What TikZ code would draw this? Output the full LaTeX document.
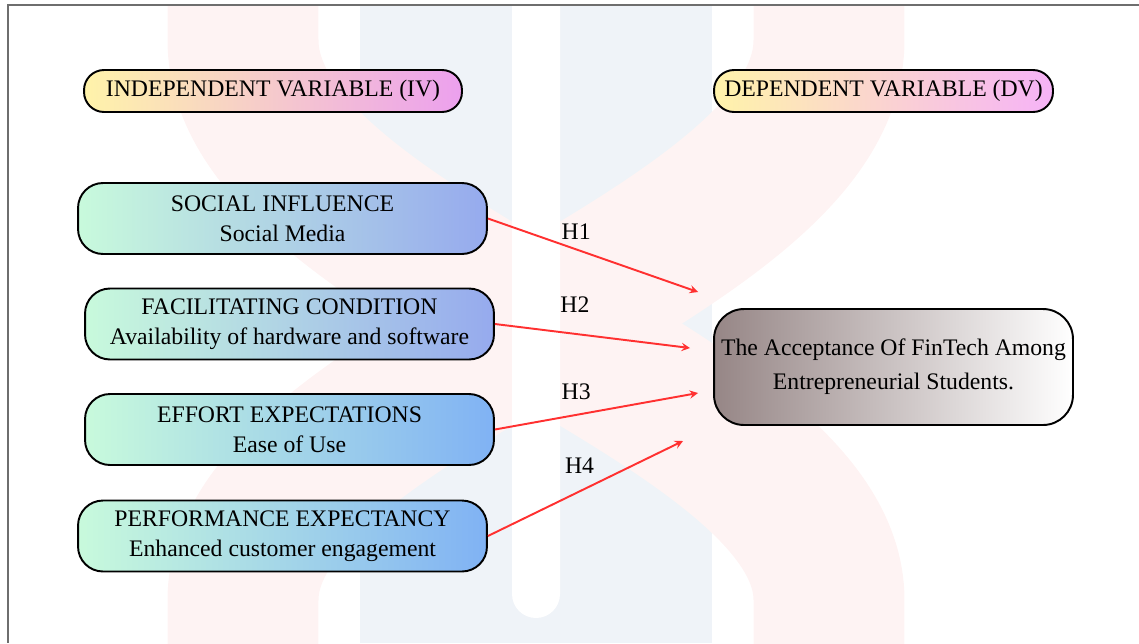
\documentclass[tikz,border=0pt]{standalone}
\usepackage{fontspec}
\setmainfont{Liberation Serif}
\usepackage{xcolor}
\usepackage{tikz}

\definecolor{wmpink}{RGB}{254,243,243}
\definecolor{wmblue}{RGB}{239,243,248}
\definecolor{hdyellow}{RGB}{255,243,170}
\definecolor{hdpink}{RGB}{255,192,202}
\definecolor{hdviolet}{RGB}{236,160,238}
\definecolor{fmint}{RGB}{200,250,220}
\definecolor{fsky}{RGB}{172,218,236}
\definecolor{fperi}{RGB}{150,170,238}
\definecolor{fblue}{RGB}{128,178,244}
\definecolor{tgray}{RGB}{150,134,134}
\definecolor{tmid}{RGB}{205,205,205}
\definecolor{hypred}{RGB}{255,48,48}
\definecolor{framegray}{RGB}{110,110,110}

\tikzset{
  header/.style={draw=black, line width=1.1pt, rounded corners=0.4cm,
    minimum height=0.84cm, inner sep=0pt,
    left color=hdyellow, middle color=hdpink, right color=hdviolet,
    font=\fontsize{13.5}{16}\selectfont},
  factor/.style={draw=black, line width=1.1pt, rounded corners=0.5cm,
    minimum width=8.18cm, minimum height=1.42cm, inner sep=0pt, align=center,
    left color=fmint, middle color=fsky, right color=#1,
    font=\fontsize{13.5}{17}\selectfont},
  factor/.default=fperi,
  target/.style={draw=black, line width=1.1pt, rounded corners=0.6cm,
    minimum width=7.18cm, minimum height=2.32cm, inner sep=0pt, align=center,
    left color=tgray, middle color=tmid, right color=white,
    font=\fontsize{13.5}{19.5}\selectfont},
  hyp/.style={->, hypred, line width=1.1pt},
  hlabel/.style={text=black, font=\fontsize{13.5}{16}\selectfont}
}

\begin{document}
\begin{tikzpicture}[>=stealth, x=0.02cm, y=-0.02cm]

    \useasboundingbox (0,0) rectangle (1139,643);

    % Background mark
    \begin{scope}
      \clip (8,5) rectangle (1139,643);
      \fill[wmblue] (360,0) rectangle (712,643);
      \draw[wmpink, line width=3.02cm]
        (243,-20) -- (243,40) .. controls (243,260) and (829,390) .. (829,600) -- (829,660);
      \draw[wmpink, line width=3.02cm]
        (829,-20) -- (829,40) .. controls (829,260) and (243,390) .. (243,600) -- (243,660);
      \fill[white, rounded corners=0.48cm] (512,-20) rectangle (560,618);
    \end{scope}

    % Frame
    \draw[framegray, line width=1.2pt] (7,5) -- (1139,5);
    \draw[framegray, line width=0.6pt] (8,5) -- (8,643);

    % Headers
    \node[header, minimum width=7.56cm] (iv) at (273,91) {INDEPENDENT VARIABLE (IV)};
    \node[header, minimum width=6.78cm, right color=hdviolet!80!magenta!60] (dv) at (883.5,91) {DEPENDENT VARIABLE (DV)};

    % Independent variables
    \node[factor] (social)  at (282.5,218.5) {SOCIAL INFLUENCE\\Social Media};
    \node[factor] (facil)   at (289.5,324)   {FACILITATING CONDITION\\Availability of hardware and software};
    \node[factor=fblue] (effort)  at (289.5,429.5) {EFFORT EXPECTATIONS\\Ease of Use};
    \node[factor=fblue] (perform) at (282.5,536)   {PERFORMANCE EXPECTANCY\\Enhanced customer engagement};

    % Dependent variable
    \node[target] (accept) at (893.5,367) {The Acceptance Of FinTech Among\\Entrepreneurial Students.};

    % Arrow ends (approximate)
    \coordinate (h1end) at (698,292);
    \coordinate (h2end) at (690,348);
    \coordinate (h3end) at (698,393);
    \coordinate (h4end) at (683,441);

    % Hypotheses
    \draw[hyp] (social.east)  -- (h1end) node[hlabel, pos=.42, above=2pt] (lab1) {H1};
    \draw[hyp] (facil.east)   -- (h2end) node[hlabel, pos=.41, above=8pt] (lab2) {H2};
    \draw[hyp] (effort.east)  -- (h3end) node[hlabel, pos=.40, above=5pt] (lab3) {H3};
    \draw[hyp] (perform.east) -- (h4end) node[hlabel, pos=.47, above=6pt] (lab4) {H4};

  \end{tikzpicture}
\end{document}
